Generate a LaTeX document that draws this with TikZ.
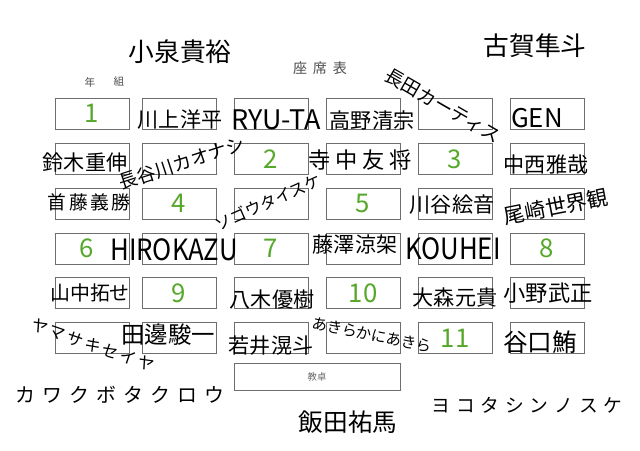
\documentclass[tikz,border=0pt]{standalone}
\usepackage{fontspec}
\newfontfamily\hand{Noto Sans CJK JP}
\definecolor{numgreen}{RGB}{86,168,42}
\definecolor{frame}{RGB}{110,110,110}
\begin{document}
\begin{tikzpicture}[x=0.03cm,y=-0.03cm,
    seat/.style={rectangle,draw=frame,line width=0.6pt,minimum width=2.22cm,minimum height=0.93cm,inner sep=0pt,text=numgreen,font=\hand\fontsize{22}{22}\selectfont},
    who/.style={inner sep=0pt,font=\hand\fontsize{#1}{#1}\selectfont},
    who/.default=18,
    head/.style={inner sep=0pt,text=black!70,font=\hand\fontsize{#1}{#1}\selectfont}]
    \useasboundingbox (0,0) rectangle (640,451);
    % seats, row by row
    \node[seat] (r1c1) at (92,113.5) {1};  \node[seat] (r1c2) at (179,113.5) {}; \node[seat] (r1c3) at (271,113.5) {};
    \node[seat] (r1c4) at (363,113.5) {};  \node[seat] (r1c5) at (455,113.5) {}; \node[seat] (r1c6) at (547,113.5) {};
    \node[seat] (r2c1) at (92,159) {};     \node[seat] (r2c2) at (179,159) {};   \node[seat] (r2c3) at (271,159) {2};
    \node[seat] (r2c4) at (363,159) {};    \node[seat] (r2c5) at (455,159) {3};  \node[seat] (r2c6) at (547,159) {};
    \node[seat] (r3c1) at (92,203.5) {};   \node[seat] (r3c2) at (179,203.5) {4}; \node[seat] (r3c3) at (271,203.5) {};
    \node[seat] (r3c4) at (363,203.5) {5}; \node[seat] (r3c5) at (455,203.5) {}; \node[seat] (r3c6) at (547,203.5) {};
    \node[seat] (r4c1) at (92,248.5) {\hspace{-9pt}6}; \node[seat] (r4c2) at (179,248.5) {}; \node[seat] (r4c3) at (271,248.5) {7};
    \node[seat] (r4c4) at (363,248.5) {};  \node[seat] (r4c5) at (455,248.5) {}; \node[seat] (r4c6) at (547,248.5) {8};
    \node[seat] (r5c1) at (92,293) {};     \node[seat] (r5c2) at (179,293) {9};  \node[seat] (r5c3) at (271,293) {};
    \node[seat] (r5c4) at (363,293) {10};  \node[seat] (r5c5) at (455,293) {};   \node[seat] (r5c6) at (547,293) {};
    \node[seat] (r6c1) at (92,338) {};     \node[seat] (r6c2) at (179,338) {};   \node[seat] (r6c3) at (271,338) {};
    \node[seat] (r6c4) at (363,338) {};    \node[seat] (r6c5) at (455,338) {11}; \node[seat] (r6c6) at (547,338) {};
    \node[seat,minimum width=4.98cm,minimum height=0.81cm,text=black!60,font=\hand\fontsize{8}{8}\selectfont] (desk) at (317,376.5) {教卓};
    % headings
    \node[head=12] (title) at (320,68) {座\hspace{5pt}席\hspace{5pt}表};
    \node[head=9] (nen) at (90,82) {年};
    \node[head=9] (kumi) at (119,82) {組};
    % names
    \node[who=22] (koizumi) at (180,52) {小泉貴裕};
    \node[who=22] (koga) at (535,46) {古賀隼斗};
    \node[who=16,rotate=-30] (nagata) at (443,106) {長田カーティス};
    \node[who] (kawakami) at (180,120) {川上洋平};
    \node[who=23] (ryuta) at (276,120) {RYU-TA};
    \node[who] (takano) at (372,120) {高野清宗};
    \node[who=22] (gen) at (537,118) {GEN};
    \node[who] (suzuki) at (85,162) {鈴木重伸};
    \node[who=16,rotate=18] (hasegawa) at (182,163) {長谷川カオナシ};
    \node[who=19] (teranaka) at (360,160) {寺\hspace{4pt}中\hspace{4pt}友\hspace{4pt}将};
    \node[who] (nakanishi) at (546,164) {中西雅哉};
    \node[who=16] (sudo) at (89,202) {首\hspace{2pt}藤\hspace{2pt}義\hspace{2pt}勝};
    \node[who=14,rotate=24] (sogo) at (268,202) {ソゴウタイスケ};
    \node[who] (kawatani) at (452,205) {川谷絵音};
    \node[who=18,rotate=11] (ozaki) at (556,207) {尾崎世界観};
    \node[who=25,xscale=0.88] (hirokazu) at (174,250) {HIROKAZU};
    \node[who] (fujisawa) at (355,245) {藤澤涼架};
    \node[who=25,xscale=0.88] (kouhei) at (453,249) {KOUHEI};
    \node[who=17] (yamanaka) at (90,293) {山中拓せ};
    \node[who] (yagi) at (272,300) {八木優樹};
    \node[who] (omori) at (455,297) {大森元貴};
    \node[who=19] (ono) at (548,293) {小野武正};
    \node[who=14,rotate=-19] (yamasaki) at (93,345) {ヤ\hspace{2pt}マ\hspace{2pt}サ\hspace{2pt}キ\hspace{2pt}セ\hspace{2pt}イ\hspace{2pt}ヤ};
    \node[who=20] (tanabe) at (168,335) {田邊駿一};
    \node[who] (wakai) at (271,346) {若井滉斗};
    \node[who=13,rotate=-11] (akira) at (372,335) {あきらかにあきら};
    \node[who=21] (taniguchi) at (540,342) {谷口鮪};
    \node[who=17] (kawakubo) at (120,395) {カ\hspace{6pt}ワ\hspace{6pt}ク\hspace{6pt}ボ\hspace{6pt}タ\hspace{6pt}ク\hspace{6pt}ロ\hspace{6pt}ウ};
    \node[who=21] (iida) at (348,422) {飯田祐馬};
    \node[who=16] (yokota) at (527,405) {ヨ\hspace{5pt}コ\hspace{5pt}タ\hspace{5pt}シ\hspace{5pt}ン\hspace{5pt}ノ\hspace{5pt}ス\hspace{5pt}ケ};
\end{tikzpicture}
\end{document}
